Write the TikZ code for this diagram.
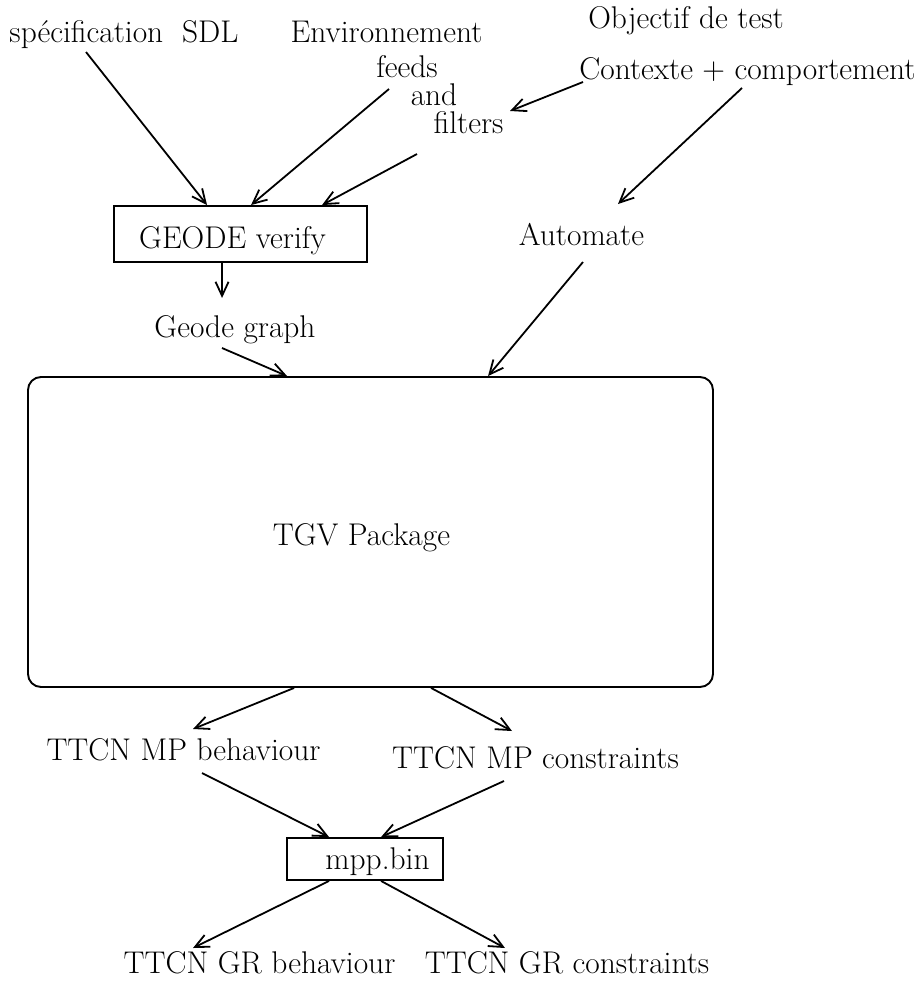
\documentclass[tikz,border=0pt]{standalone}
\usetikzlibrary{arrows.meta,calc}
\begin{document}
\begin{tikzpicture}[x=1pt,y=-1pt,
  every node/.style={inner sep=0pt, font=\fontsize{31.4}{38}\selectfont},
  lbl/.style={anchor=base},
  box/.style={draw, line width=1.9pt, inner sep=0pt},
  arr/.style={-{Straight Barb[length=14pt,width=13pt,line width=1.8pt]}, line width=1.8pt},
]
\useasboundingbox (0,0) rectangle (919,989);

% text labels
\node[lbl] (spec) at (124,42) {spécification~ SDL};
\node[lbl] (env) at (386.5,42) {Environnement};
\node[lbl] (obj) at (686,28) {Objectif de test};
\node[lbl] (feeds) at (407,77) {feeds};
\node[lbl] (and) at (434,105) {and};
\node[lbl] (filters) at (468.5,133) {filters};
\node[lbl] (ctx) at (747.5,79) {Contexte + comportement};
\node[lbl] (auto) at (581.5,245) {Automate};
\node[lbl] (ggraph) at (235,337) {Geode graph};
\node[lbl] (mpbeh) at (183.5,760) {TTCN MP behaviour};
\node[lbl] (mpcon) at (535.5,768) {TTCN MP constraints};
\node[lbl] (grbeh) at (259.5,973) {TTCN GR behaviour};
\node[lbl] (grcon) at (567,973) {TTCN GR constraints};

% boxes
\node[box, minimum width=253pt, minimum height=56pt, text height=34pt, text depth=6pt]
  (geode) at (240.5,234) {GEODE verify\hspace*{16pt}};
\node[box, rounded corners=13pt, minimum width=685pt, minimum height=310pt, text height=32pt, text depth=6pt]
  (tgv) at (370.5,532) {TGV Package\hspace*{18pt}};
\node[box, minimum width=156pt, minimum height=42pt, text height=26pt, text depth=6pt]
  (mpp) at (365,859) {\hspace*{25pt}mpp.bin};

% free ends
\coordinate (s1) at (86,52);
\coordinate (s2) at (389,89);
\coordinate (s3) at (417,154);
\coordinate (s4) at (583,82);
\coordinate (t4) at (510,111);
\coordinate (s5) at (742,88);
\coordinate (t5) at (618,204);
\coordinate (t6) at ($(geode.south west)+(109,35)$);
\coordinate (s7) at (222,348);
\coordinate (s8) at (583,262);
\coordinate (t9) at (193,729);
\coordinate (t10) at (512,731);
\coordinate (s11) at (202,773);
\coordinate (s12) at (504,781);
\coordinate (t13) at (193,948);
\coordinate (t14) at (505,948);

% connectors
\draw[arr] (s1) -- ($(geode.north west)+(94,0)$);
\draw[arr] (s2) -- ($(geode.north west)+(138,0)$);
\draw[arr] (s3) -- ($(geode.north west)+(209,0)$);
\draw[arr] (s4) -- (t4);
\draw[arr] (s5) -- (t5);
\draw[arr] ($(geode.south west)+(109,0)$) -- (t6);
\draw[arr] (s7) -- ($(tgv.north west)+(260,0)$);
\draw[arr] (s8) -- ($(tgv.north west)+(461,0)$);
\draw[arr] ($(tgv.south west)+(267,0)$) -- (t9);
\draw[arr] ($(tgv.south west)+(404,0)$) -- (t10);
\draw[arr] (s11) -- ($(mpp.north west)+(43,0)$);
\draw[arr] (s12) -- ($(mpp.north west)+(95,0)$);
\draw[arr] ($(mpp.south west)+(43,0)$) -- (t13);
\draw[arr] ($(mpp.south west)+(95,0)$) -- (t14);
\end{tikzpicture}
\end{document}
